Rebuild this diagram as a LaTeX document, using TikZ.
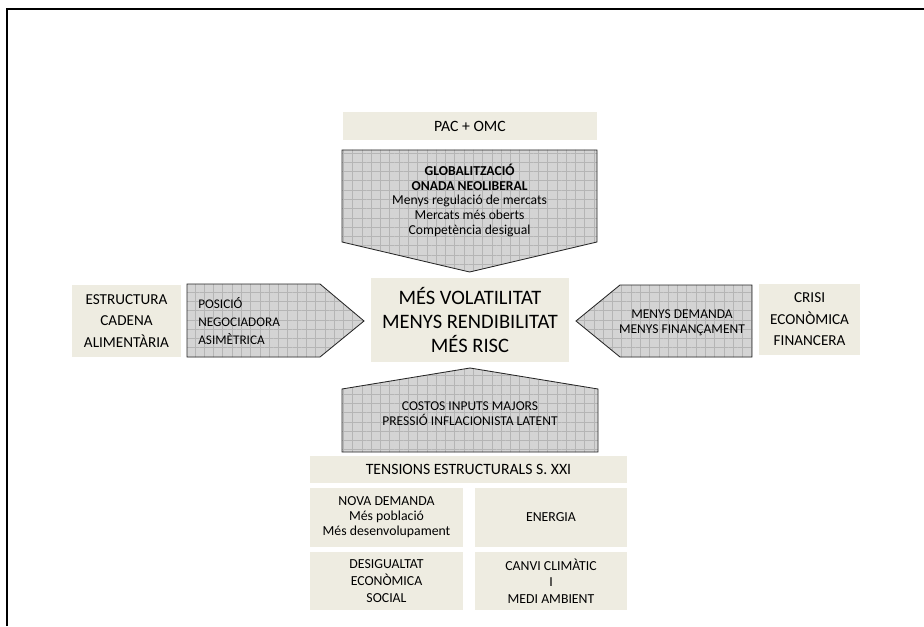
\documentclass[tikz,border=0pt]{standalone}
\usepackage{fontspec}
\setmainfont{Carlito}
\usetikzlibrary{patterns.meta}
\definecolor{boxtan}{HTML}{EEECE1}

\begin{document}
\begin{tikzpicture}[
    tanbox/.style={rectangle, fill=boxtan, inner sep=0pt, align=center},
    gridarrow/.style={draw=black!85, line width=0.6pt, line join=miter,
        preaction={fill=black!17},
        preaction={pattern color=black!29, pattern={Lines[angle=0,distance=6.6pt,line width=0.3pt]}},
        preaction={pattern color=black!29, pattern={Lines[angle=90,distance=6.6pt,line width=0.3pt]}}},
    arrowtext/.style={inner sep=0pt, align=center}
]
    \useasboundingbox (0,0) rectangle (23.1,-15.65);
    \draw[line width=1.4pt] (0.175,-15.65) -- (0.175,-0.225) -- (23.1,-0.225);

    \node[tanbox, minimum width=6.35cm, minimum height=0.7cm, font=\fontsize{11.2}{13}\selectfont] (pacomc) at (11.75,-3.15) {PAC + OMC};

    \draw[gridarrow] (8.55,-3.75) -- (14.925,-3.75) -- (14.925,-6.05) -- (11.74,-6.8) -- (8.55,-6.05) -- cycle;
    \node[arrowtext, font=\fontsize{9.7}{10.5}\selectfont] (glob) at (11.74,-5.01) {\textbf{GLOBALITZACIÓ}\\\textbf{ONADA NEOLIBERAL}\\Menys regulació de mercats\\Mercats més oberts\\Competència desigual};

    \node[tanbox, minimum width=4.95cm, minimum height=2.1cm, font=\fontsize{14.6}{17.4}\selectfont] (risc) at (11.75,-8.0) {MÉS VOLATILITAT\\MENYS RENDIBILITAT\\MÉS RISC};

    \node[tanbox, minimum width=2.725cm, minimum height=1.8cm, font=\fontsize{10.8}{15.3}\selectfont] (cadena) at (3.1625,-8.025) {ESTRUCTURA\\CADENA\\ALIMENTÀRIA};
    \draw[gridarrow] (4.675,-7.1) -- (8.0,-7.1) -- (9.1,-8.025) -- (8.0,-8.925) -- (4.675,-8.925) -- cycle;
    \node[arrowtext, align=left, anchor=west, font=\fontsize{9.4}{12.8}\selectfont] (posicio) at (4.95,-8.025) {POSICIÓ\\NEGOCIADORA\\ASIMÈTRICA};

    \draw[gridarrow] (14.4,-8.025) -- (15.5,-7.125) -- (18.8,-7.125) -- (18.8,-8.925) -- (15.5,-8.925) -- cycle;
    \node[arrowtext, font=\fontsize{9.6}{10.7}\selectfont] (demanda) at (17.05,-8.06) {MENYS DEMANDA\\MENYS FINANÇAMENT};
    \node[tanbox, minimum width=2.525cm, minimum height=1.775cm, font=\fontsize{10.8}{15.3}\selectfont] (crisi) at (20.24,-7.99) {CRISI\\ECONÒMICA\\FINANCERA};

    \draw[gridarrow] (8.55,-11.3) -- (8.55,-9.725) -- (11.75,-9.2) -- (14.95,-9.725) -- (14.95,-11.3) -- cycle;
    \node[arrowtext, font=\fontsize{9.6}{10.7}\selectfont] (costos) at (11.75,-10.35) {COSTOS INPUTS MAJORS\\PRESSIÓ INFLACIONISTA LATENT};

    \node[tanbox, minimum width=7.925cm, minimum height=0.675cm, font=\fontsize{11.2}{13}\selectfont] (tensions) at (11.7125,-11.7375) {TENSIONS ESTRUCTURALS S. XXI};
    \node[tanbox, minimum width=3.825cm, minimum height=1.475cm, font=\fontsize{9.8}{10.7}\selectfont] (nova) at (9.6625,-12.9375) {NOVA DEMANDA\\Més població\\Més desenvolupament};
    \node[tanbox, minimum width=3.8cm, minimum height=1.475cm, font=\fontsize{9.8}{10.7}\selectfont, xshift=4.1125cm] (energia) at (nova) {ENERGIA};
    \node[tanbox, minimum width=3.825cm, minimum height=1.45cm, font=\fontsize{9.8}{11.9}\selectfont, yshift=-1.5875cm] (desigualtat) at (nova) {DESIGUALTAT\\ECONÒMICA\\SOCIAL};
    \node[tanbox, minimum width=3.8cm, minimum height=1.45cm, font=\fontsize{9.8}{11.9}\selectfont, yshift=-1.5875cm] (canvi) at (energia) {CANVI CLIMÀTIC\\I\\MEDI AMBIENT};
\end{tikzpicture}
\end{document}
